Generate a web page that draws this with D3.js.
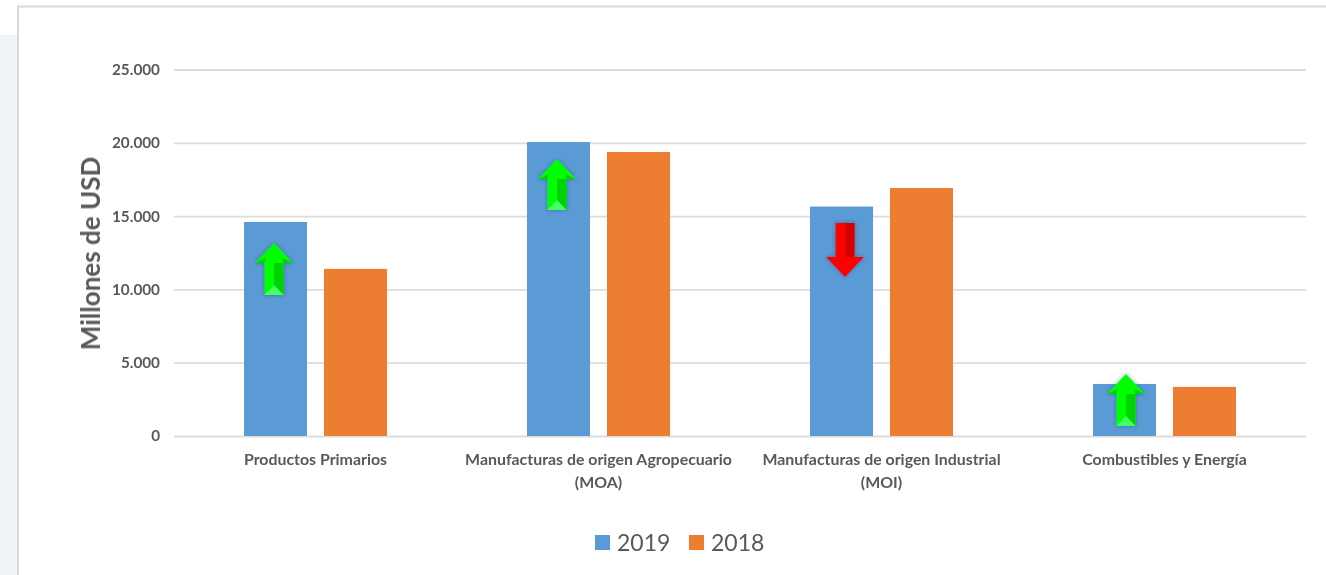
<!DOCTYPE html>
<html>
<head>
<meta charset="utf-8">
<script src="https://cdn.jsdelivr.net/npm/d3@7"></script>
<style>
  html, body { margin: 0; padding: 0; background: #fff; overflow: hidden; }
  text { font-family: Lato, "Open Sans", sans-serif; filter: blur(0.35px); }
</style>
</head>
<body>
<div id="chart"></div>
<script>
const categories = ["Productos Primarios", "Manufacturas de origen Agropecuario (MOA)", "Manufacturas de origen Industrial (MOI)", "Combustibles y Energía"];
const categoryLines = [["Productos Primarios"], ["Manufacturas de origen Agropecuario", "(MOA)"], ["Manufacturas de origen Industrial", "(MOI)"], ["Combustibles y Energía"]];
const series = ["2019", "2018"];
const values2019 = [14600, 20050, 15650, 3550];
const values2018 = [11400, 19370, 16920, 3350];
const yTicks = [0, 5000, 10000, 15000, 20000, 25000];
// arrows sit on the 2019 bars: start and tip are read in axis units
const arrowStart = [9620, 15420, 14530, 680];
const arrowTip = [13170, 18900, 10850, 4230];
const arrowShift = [-1.5, -1.5, 3.5, 1.5];

const width = 1326, height = 575;
const margin = { top: 69.5, right: 20, bottom: 139, left: 174 };
const colors = { "2019": "#5b9bd5", "2018": "#ed7d31" };

const svg = d3.select("#chart").append("svg")
  .attr("width", width)
  .attr("height", height)
  .style("display", "block");

// page background and the frame of the pasted chart
svg.append("rect").attr("x", 0).attr("y", 35).attr("width", 18).attr("height", height - 35).attr("fill", "#f0f4f8");
svg.append("path").attr("d", "M18,575V6.5H1326").attr("fill", "none").attr("stroke", "#d9d9d9").attr("stroke-width", 2);

const y = d3.scaleLinear().domain([0, 25000]).range([height - margin.bottom, margin.top]);
const x0 = d3.scaleBand().domain(categories).range([margin.left, width - margin.right]);
const x1 = d3.scaleBand().domain(series).range([0, x0.bandwidth()]).paddingInner(0.2125).paddingOuter(0.875);

const locale = d3.formatLocale({ decimal: ",", thousands: ".", grouping: [3], currency: ["$", ""] });

const yAxis = svg.append("g")
  .attr("transform", "translate(" + margin.left + ",0)")
  .call(d3.axisLeft(y).tickValues(yTicks).tickFormat(locale.format(",d")).tickSize(-(width - margin.left - margin.right)).tickPadding(14));
yAxis.select(".domain").remove();
yAxis.selectAll("line").attr("stroke", "#dcdcdc").attr("stroke-width", 1.8);
yAxis.selectAll("text")
  .attr("fill", "#595959")
  .style("font-size", "15.3px")
  .style("font-weight", 700);

// bars
const rows = categories.map((c, i) => ({ category: c, "2019": values2019[i], "2018": values2018[i] }));
svg.append("g").selectAll("g")
  .data(rows)
  .enter().append("g")
  .attr("transform", d => "translate(" + x0(d.category) + ",0)")
  .selectAll("rect")
  .data(d => series.map(s => ({ s: s, v: d[s] })))
  .enter().append("rect")
  .attr("x", d => x1(d.s))
  .attr("y", d => y(d.v))
  .attr("width", x1.bandwidth())
  .attr("height", d => y(0) - y(d.v))
  .attr("fill", d => colors[d.s]);

// category labels
svg.append("g").selectAll("text")
  .data(categories)
  .enter().append("text")
  .attr("text-anchor", "middle")
  .attr("fill", "#595959")
  .style("font-size", "15.9px")
  .style("font-weight", 700)
  .each(function (d, i) {
    d3.select(this).selectAll("tspan")
      .data(categoryLines[i])
      .enter().append("tspan")
      .attr("x", x0(d) + x0.bandwidth() / 2)
      .attr("y", (t, j) => 465 + j * 23)
      .text(t => t);
  });

// axis title
svg.append("text")
  .attr("transform", "translate(100,253.5) rotate(-90)")
  .attr("text-anchor", "middle")
  .attr("fill", "#595959")
  .style("font-size", "26px")
  .style("font-weight", 700)
  .text("Millones de USD");

// legend
const legend = svg.append("g");
const legendX = [595, 689];
series.forEach((s, i) => {
  legend.append("rect").attr("x", legendX[i]).attr("y", 535).attr("width", 15).attr("height", 15).attr("fill", colors[s]);
  legend.append("text").attr("x", legendX[i] + 22).attr("y", 551)
    .attr("fill", "#595959").style("font-size", "23px").text(s);
});

// soft shadow under the arrows
const defs = svg.append("defs");
const shadow = defs.append("filter").attr("id", "arrowShadow").attr("x", "-30%").attr("y", "-30%").attr("width", "160%").attr("height", "160%");
shadow.append("feDropShadow").attr("dx", 0).attr("dy", 0).attr("stdDeviation", 2).attr("flood-color", "#1a3a5a").attr("flood-opacity", 0.45);

function drawArrow(i) {
  const cx = x0(categories[i]) + x1("2019") + x1.bandwidth() / 2 + arrowShift[i];
  const y0 = y(arrowStart[i]), y1 = y(arrowTip[i]);
  const up = y1 < y0;
  const headLen = up ? 20 : -20, head = 19, shaft = 9.5;
  const yn = y1 + headLen;   // where the head meets the shaft
  const main = up ? "#00ff00" : "#ff0000";
  const dark = up ? "#00d400" : "#d40000";
  const light = up ? "#44ff66" : "#ff3333";
  const g = svg.append("g").attr("filter", "url(#arrowShadow)");
  const poly = (pts, fill) => g.append("polygon").attr("points", pts.map(p => p.join(",")).join(" ")).attr("fill", fill);
  // full outline first, then the darker facets on top
  poly([[cx - shaft, y0], [cx + shaft, y0], [cx + shaft, yn], [cx + head, yn], [cx, y1], [cx - head, yn], [cx - shaft, yn]], main);
  poly([[cx, y0], [cx + shaft, y0], [cx + shaft, yn], [cx, yn]], dark);
  if (up) poly([[cx - shaft, y0], [cx + shaft, y0], [cx, y0 - 10]], light);
  if (up) poly([[cx + shaft, yn], [cx + head, yn], [cx + 8, yn - 5]], dark);
  if (up) poly([[cx - shaft, yn], [cx - head, yn], [cx - 8, yn - 5]], dark);
}
categories.forEach((c, i) => drawArrow(i));
</script>
</body>
</html>
